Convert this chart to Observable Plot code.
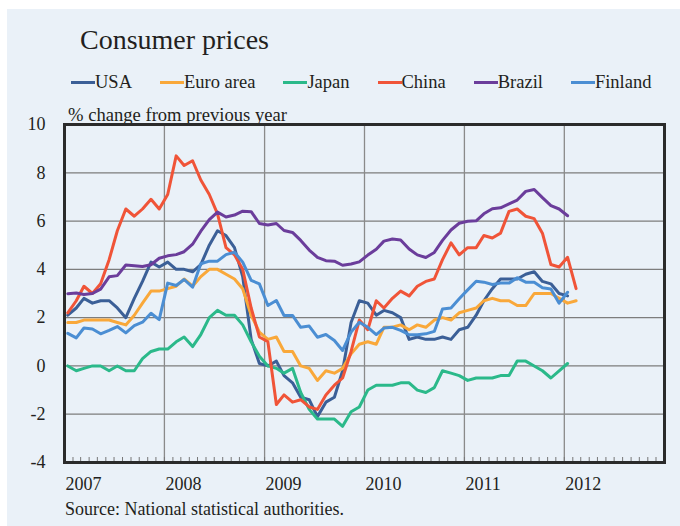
<!DOCTYPE html>
<html><head><meta charset="utf-8">
<script src="https://cdn.jsdelivr.net/npm/d3@7"></script>
<script src="https://cdn.jsdelivr.net/npm/@observablehq/plot@0.6"></script>
<style>
html,body{margin:0;padding:0;background:#fff;width:680px;height:526px;overflow:hidden;}
#panel{position:absolute;left:7px;top:9px;width:673px;height:517px;background:#eaf1f8;}
.t{position:absolute;font-family:"Liberation Serif","Times New Roman",serif;color:#231f20;line-height:1;white-space:nowrap;}
#legend{position:absolute;left:71px;top:73px;display:flex;gap:28px;font-family:"Liberation Serif","Times New Roman",serif;font-size:18.5px;line-height:1;color:#231f20;}
#legend .item{display:flex;align-items:center;white-space:nowrap;}
#legend .sw{display:inline-block;width:24px;height:3px;}
#chart{position:absolute;left:0;top:100px;}
#chart svg, #chart svg text{font-family:"Liberation Serif","Times New Roman",serif !important;}
</style></head><body>
<div id="panel"></div>
<div class="t" style="left:80px;top:26px;font-size:28px">Consumer prices</div>
<div id="legend"></div>
<div class="t" style="left:68px;top:106px;font-size:18.6px">% change from previous year</div>
<div id="chart"></div>
<div class="t" style="left:65px;top:500px;font-size:18px">Source: National statistical authorities.</div>
<script>
// Monthly year-on-year % change, starting January 2007
const seriesNames = ["USA", "Euro area", "Japan", "China", "Brazil", "Finland"];
const seriesColors = ["#3b5f97", "#f9a83a", "#2bb98a", "#f05438", "#6b3d9b", "#4b8ed3"];

const usa = [
  2.1, 2.4, 2.8, 2.6, 2.7, 2.7, 2.4, 2.0, 2.8, 3.5, 4.3, 4.1,
  4.3, 4.0, 4.0, 3.9, 4.2, 5.0, 5.6, 5.4, 4.9, 3.7, 1.1, 0.1,
  0.0, 0.2, -0.4, -0.7, -1.3, -1.4, -2.1, -1.5, -1.3, -0.2, 1.8, 2.7,
  2.6, 2.1, 2.3, 2.2, 2.0, 1.1, 1.2, 1.1, 1.1, 1.2, 1.1, 1.5,
  1.6, 2.1, 2.7, 3.2, 3.6, 3.6, 3.6, 3.8, 3.9, 3.5, 3.4, 3.0,
  2.9
];
const euro = [
  1.8, 1.8, 1.9, 1.9, 1.9, 1.9, 1.8, 1.7, 2.1, 2.6, 3.1, 3.1,
  3.2, 3.3, 3.6, 3.3, 3.7, 4.0, 4.0, 3.8, 3.6, 3.2, 2.1, 1.4,
  1.1, 1.2, 0.6, 0.6, 0.0, -0.1, -0.6, -0.2, -0.3, -0.1, 0.5, 0.9,
  1.0, 0.9, 1.6, 1.6, 1.7, 1.5, 1.7, 1.6, 1.9, 2.0, 1.9, 2.2,
  2.3, 2.4, 2.7, 2.8, 2.7, 2.7, 2.5, 2.5, 3.0, 3.0, 3.0, 2.8,
  2.6, 2.7
];
const japan = [
  0.0, -0.2, -0.1, 0.0, 0.0, -0.2, 0.0, -0.2, -0.2, 0.3, 0.6, 0.7,
  0.7, 1.0, 1.2, 0.8, 1.3, 2.0, 2.3, 2.1, 2.1, 1.7, 1.0, 0.4,
  0.0, -0.1, -0.3, -0.1, -1.1, -1.8, -2.2, -2.2, -2.2, -2.5, -1.9, -1.7,
  -1.0, -0.8, -0.8, -0.8, -0.7, -0.7, -1.0, -1.1, -0.9, -0.2, -0.3, -0.4,
  -0.6, -0.5, -0.5, -0.5, -0.4, -0.4, 0.2, 0.2, 0.0, -0.2, -0.5, -0.2,
  0.1
];
const china = [
  2.2, 2.7, 3.3, 3.0, 3.4, 4.4, 5.6, 6.5, 6.2, 6.5, 6.9, 6.5,
  7.1, 8.7, 8.3, 8.5, 7.7, 7.1, 6.3, 4.9, 4.6, 4.0, 2.4, 1.2,
  1.0, -1.6, -1.2, -1.5, -1.4, -1.7, -1.8, -1.2, -0.8, -0.5, 0.6, 1.9,
  1.5, 2.7, 2.4, 2.8, 3.1, 2.9, 3.3, 3.5, 3.6, 4.4, 5.1, 4.6,
  4.9, 4.9, 5.4, 5.3, 5.5, 6.4, 6.5, 6.2, 6.1, 5.5, 4.2, 4.1,
  4.5, 3.2
];
const brazil = [
  2.99, 3.02, 2.96, 3.00, 3.18, 3.69, 3.74, 4.18, 4.15, 4.12, 4.19, 4.46,
  4.56, 4.61, 4.73, 5.04, 5.58, 6.06, 6.37, 6.17, 6.25, 6.41, 6.39, 5.90,
  5.84, 5.90, 5.61, 5.53, 5.20, 4.80, 4.50, 4.36, 4.34, 4.17, 4.22, 4.31,
  4.59, 4.83, 5.17, 5.26, 5.22, 4.84, 4.60, 4.49, 4.70, 5.20, 5.63, 5.91,
  5.99, 6.01, 6.30, 6.51, 6.55, 6.71, 6.87, 7.23, 7.31, 6.97, 6.64, 6.50,
  6.22
];
const finland = [
  1.35, 1.16, 1.57, 1.53, 1.33, 1.47, 1.63, 1.37, 1.67, 1.81, 2.18, 1.92,
  3.43, 3.33, 3.58, 3.26, 4.23, 4.34, 4.34, 4.61, 4.71, 4.30, 3.54, 3.40,
  2.50, 2.71, 2.09, 2.09, 1.60, 1.65, 1.19, 1.30, 1.05, 0.64, 1.40, 1.81,
  1.60, 1.30, 1.57, 1.60, 1.47, 1.29, 1.29, 1.33, 1.43, 2.36, 2.40, 2.78,
  3.15, 3.51, 3.47, 3.37, 3.43, 3.43, 3.65, 3.47, 3.47, 3.24, 3.19, 2.60,
  3.05
];
const seriesValues = [usa, euro, japan, china, brazil, finland];

const yTicks = [-4, -2, 0, 2, 4, 6, 8, 10];
const yearLabels = [2007, 2008, 2009, 2010, 2011, 2012];

// build table
const rows = [];
seriesNames.forEach((name, s) => {
  seriesValues[s].forEach((v, i) => {
    rows.push({series: name, date: new Date(Date.UTC(2007, i, 13)), value: v});
  });
});

// legend
const legend = document.getElementById("legend");
seriesNames.forEach((name, i) => {
  const item = document.createElement("div");
  item.className = "item";
  const sw = document.createElement("span");
  sw.className = "sw";
  sw.style.background = seriesColors[i];
  const tx = document.createElement("span");
  tx.textContent = name;
  item.appendChild(sw);
  item.appendChild(tx);
  legend.appendChild(item);
});

const serif = "Liberation Serif, Times New Roman, serif";
const yearStarts = yearLabels.map(y => new Date(Date.UTC(y, 0, 1)));
const innerYears = yearStarts.slice(1);
const monthTicks = d3.utcMonths(new Date(Date.UTC(2007, 0, 1)), new Date(Date.UTC(2013, 0, 2)));

const chart = Plot.plot({
  width: 680,
  height: 400,
  marginTop: 24,
  marginBottom: 38,
  marginLeft: 64,
  marginRight: 16,
  style: {background: "transparent", fontFamily: serif, fontSize: "18px", color: "#231f20", overflow: "visible"},
  x: {type: "utc", domain: [new Date(Date.UTC(2007, 0, 1)), new Date(Date.UTC(2013, 0, 1))]},
  y: {domain: [-4, 10]},
  color: {domain: seriesNames, range: seriesColors},
  marks: [
    Plot.gridY(yTicks, {stroke: "#7d7d7d", strokeOpacity: 1, strokeWidth: 1.3}),
    Plot.gridX(innerYears, {stroke: "#8a8a8a", strokeOpacity: 1, strokeWidth: 1.3}),
    Plot.lineY(rows, {x: "date", y: "value", z: "series", stroke: "series", strokeWidth: 3}),
    Plot.axisX(monthTicks, {tickSize: 5, insetBottom: 5, tickFormat: () => "", stroke: "#777", label: null}),
    Plot.axisX(yearStarts, {tickSize: 0, tickPadding: 15, tickFormat: d3.utcFormat("%Y"), textAnchor: "start", dx: 1, label: null, fontFamily: serif, fontSize: 18}),
    Plot.axisY(yTicks, {tickSize: 0, tickPadding: 19, tickFormat: d => String(d), label: null, fontFamily: serif, fontSize: 18}),
    Plot.frame({stroke: "#2b2b2b", strokeWidth: 3})
  ]
});
document.getElementById("chart").appendChild(chart);
</script>
</body></html>
